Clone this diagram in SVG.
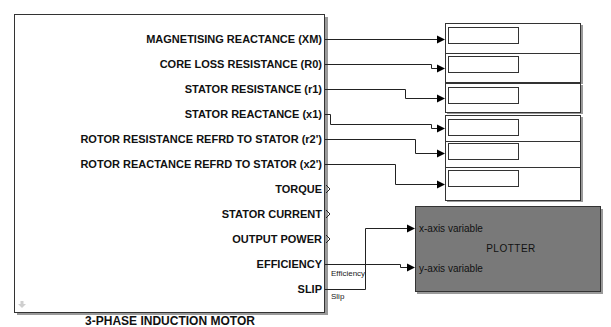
<svg xmlns="http://www.w3.org/2000/svg" width="611" height="327" viewBox="0 0 611 327">
<style>
.lbl{font-family:"Liberation Sans",Arial,sans-serif;font-weight:bold;font-size:11px;fill:#111;text-anchor:end}
.ttl{font-family:"Liberation Sans",Arial,sans-serif;font-weight:bold;font-size:12px;fill:#111;text-anchor:middle}
.sm{font-family:"Liberation Sans",Arial,sans-serif;font-size:8px;fill:#222}
.pl{font-family:"Liberation Sans",Arial,sans-serif;font-size:10px;fill:#111}
.box{fill:#fff;stroke:#333;stroke-width:1}
.shadow{fill:#9a9a9a}
.inner{fill:#fff;stroke:#333;stroke-width:1}
.wire{fill:none;stroke:#222;stroke-width:1}
.ah{fill:#000}
.chev{fill:none;stroke:#222;stroke-width:1}
</style>
<rect width="611" height="327" fill="#fff"/>
<g id="motor">
<rect class="shadow" x="17" y="17" width="311" height="298"/>
<rect class="box" x="14.5" y="14.5" width="310" height="298"/>
<text class="lbl" x="322" y="43">MAGNETISING REACTANCE (XM)</text>
<text class="lbl" x="322" y="68">CORE LOSS RESISTANCE (R0)</text>
<text class="lbl" x="322" y="93">STATOR RESISTANCE (r1)</text>
<text class="lbl" x="322" y="118">STATOR REACTANCE (x1)</text>
<text class="lbl" x="322" y="143">ROTOR RESISTANCE REFRD TO STATOR (r2')</text>
<text class="lbl" x="322" y="168">ROTOR REACTANCE REFRD TO STATOR (x2')</text>
<text class="lbl" x="322" y="193">TORQUE</text>
<text class="lbl" x="322" y="218">STATOR CURRENT</text>
<text class="lbl" x="322" y="243">OUTPUT POWER</text>
<text class="lbl" x="322" y="268">EFFICIENCY</text>
<text class="lbl" x="322" y="293">SLIP</text>
<path class="chev" d="M326 185 L330 189 L326 193 M326 210 L330 214 L326 218 M326 235 L330 239 L326 243"/>
<path d="M20.5 301 h3 v3 h2.5 l-4 4 l-4 -4 h2.5 z" fill="#cfcfcf"/>
<text class="ttl" x="170" y="324.5">3-PHASE INDUCTION MOTOR</text>
</g>
<g id="display1">
<rect class="shadow" x="447" y="25" width="136" height="30"/>
<rect class="box" x="445.5" y="23.5" width="135" height="30"/>
<rect class="inner" x="448.5" y="27.5" width="70" height="16"/>
</g>
<g id="display2">
<rect class="shadow" x="447" y="55" width="136" height="29"/>
<rect class="box" x="445.5" y="53.5" width="135" height="29"/>
<rect class="inner" x="448.5" y="56.5" width="70" height="16"/>
</g>
<g id="display3">
<rect class="shadow" x="447" y="85" width="136" height="29"/>
<rect class="box" x="445.5" y="83.5" width="135" height="29"/>
<rect class="inner" x="448.5" y="87.5" width="70" height="16"/>
</g>
<g id="display4">
<rect class="shadow" x="447" y="117" width="136" height="26"/>
<rect class="box" x="445.5" y="115.5" width="135" height="26"/>
<rect class="inner" x="448.5" y="119.5" width="70" height="16"/>
</g>
<g id="display5">
<rect class="shadow" x="447" y="143" width="136" height="26"/>
<rect class="box" x="445.5" y="141.5" width="135" height="26"/>
<rect class="inner" x="448.5" y="143.5" width="70" height="16"/>
</g>
<g id="display6">
<rect class="shadow" x="447" y="169" width="136" height="33"/>
<rect class="box" x="445.5" y="167.5" width="135" height="33"/>
<rect class="inner" x="448.5" y="170.5" width="70" height="16"/>
</g>
<g id="plotter">
<rect class="shadow" x="417" y="209" width="186" height="85"/>
<rect x="415.5" y="206.5" width="185" height="85" fill="#797979" stroke="#333"/>
<text class="pl" x="419" y="232">x-axis variable</text>
<text class="pl" x="419" y="271.5">y-axis variable</text>
<text class="pl" x="511" y="251.5" text-anchor="middle" font-size="11" letter-spacing="0.5">PLOTTER</text>
</g>
<g id="connectors">
<path class="wire" d="M325 39.5 H438"/>
<path class="wire" d="M325 64.5 H431.5 V68.5 H438"/>
<path class="wire" d="M325 89.5 H405.5 V98.5 H438"/>
<path class="wire" d="M325 114.5 H330.5 V124.5 H431.5 V128.5 H438"/>
<path class="wire" d="M325 139.5 H415.5 V153.5 H438"/>
<path class="wire" d="M325 164.5 H395.5 V184.5 H438"/>
<path class="wire" d="M325 264.5 H400.5 V267.5 H408"/>
<path class="wire" d="M325 289.5 H365.5 V228.5 H408"/>
<polygon class="ah" points="445,39.5 437,35.5 437,43.5"/>
<polygon class="ah" points="445,68.5 437,64.5 437,72.5"/>
<polygon class="ah" points="445,98.5 437,94.5 437,102.5"/>
<polygon class="ah" points="445,128.5 437,124.5 437,132.5"/>
<polygon class="ah" points="445,153.5 437,149.5 437,157.5"/>
<polygon class="ah" points="445,184.5 437,180.5 437,188.5"/>
<polygon class="ah" points="415,267.5 407,263.5 407,271.5"/>
<polygon class="ah" points="415,228.5 407,224.5 407,232.5"/>
<text class="sm" x="331" y="275.5">Efficiency</text>
<text class="sm" x="331" y="299">Slip</text>
</g>
</svg>
